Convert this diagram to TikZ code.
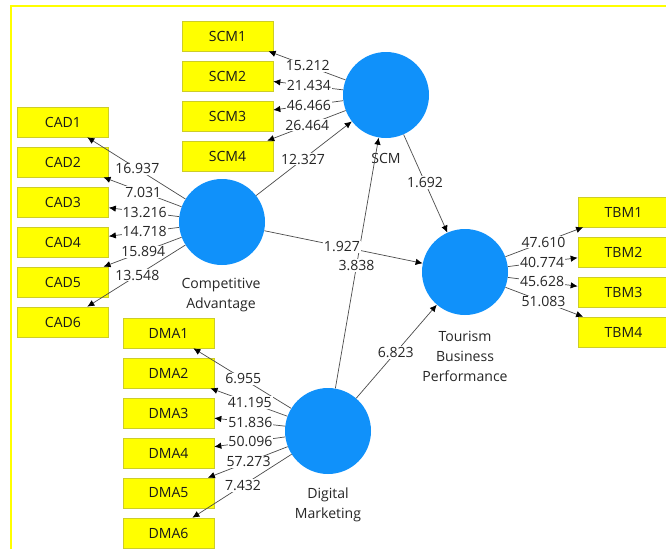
\documentclass[tikz,border=0pt]{standalone}
\usepackage{fontspec}
\setmainfont{Open Sans}
\usetikzlibrary{arrows.meta}
\definecolor{lvblue}{RGB}{16,145,250}
\definecolor{mvyellow}{RGB}{255,255,0}
\definecolor{mvedge}{RGB}{205,205,40}
\definecolor{pathgray}{RGB}{75,75,75}
\tikzset{
  latent/.style={circle,fill=lvblue,inner sep=0pt,minimum size=2.58cm},
  indicator/.style={draw=mvedge,fill=mvyellow,line width=0.5pt,minimum width=2.73cm,minimum height=0.9cm,inner sep=0pt,text=black!90},
  lvname/.style={align=center,text=black!85},
  coef/.style={fill=white,inner sep=0.8pt,pos=0.49,text=black!85},
}

\begin{document}
\begin{tikzpicture}[x=0.03cm,y=-0.03cm,font=\fontsize{12}{17}\selectfont,>={Latex[length=6pt,width=5.5pt,color=black]}]
\useasboundingbox (0,0) rectangle (666,549);
\draw [mvyellow,line width=1.7pt] (11,549) -- (11,6) -- (666,6);
% latent variables
\node [latent] (scm) at (386,95) {};
\node [latent] (ca)  at (222,222) {};
\node [latent] (dm)  at (328,431) {};
\node [latent] (tbp) at (465,272) {};
\node [lvname] (scmname) at (386,158) {SCM};
\node [lvname] (caname)  at (221,295) {Competitive\\Advantage};
\node [lvname] (dmname)  at (328,505) {Digital\\Marketing};
\node [lvname] (tbpname) at (465,356) {Tourism\\Business\\Performance};
% indicators
\node [indicator] (scm1) at (227.5,36)  {SCM1};
\node [indicator] (scm2) at (227.5,76)  {SCM2};
\node [indicator] (scm3) at (227.5,116) {SCM3};
\node [indicator] (scm4) at (227.5,156) {SCM4};
\node [indicator] (cad1) at (63,122) {CAD1};
\node [indicator] (cad2) at (63,162) {CAD2};
\node [indicator] (cad3) at (63,202) {CAD3};
\node [indicator] (cad4) at (63,242) {CAD4};
\node [indicator] (cad5) at (63,282) {CAD5};
\node [indicator] (cad6) at (63,322) {CAD6};
\node [indicator] (dma1) at (168.5,333) {DMA1};
\node [indicator] (dma2) at (168.5,373) {DMA2};
\node [indicator] (dma3) at (168.5,413) {DMA3};
\node [indicator] (dma4) at (168.5,453) {DMA4};
\node [indicator] (dma5) at (168.5,493) {DMA5};
\node [indicator] (dma6) at (168.5,533) {DMA6};
\node [indicator] (tbm1) at (623.5,212) {TBM1};
\node [indicator] (tbm2) at (623.5,252) {TBM2};
\node [indicator] (tbm3) at (623.5,292) {TBM3};
\node [indicator] (tbm4) at (623.5,332) {TBM4};
% outer loadings
\draw [pathgray,line width=0.6pt,->] (scm) to node [coef] {15.212} (scm1);
\draw [pathgray,line width=0.6pt,->] (scm) to node [coef] {21.434} (scm2);
\draw [pathgray,line width=0.6pt,->] (scm) to node [coef] {46.466} (scm3);
\draw [pathgray,line width=0.6pt,->] (scm) to node [coef] {26.464} (scm4);
\draw [pathgray,line width=0.6pt,->] (ca) to node [coef] {16.937} (cad1);
\draw [pathgray,line width=0.6pt,->] (ca) to node [coef] {7.031} (cad2);
\draw [pathgray,line width=0.6pt,->] (ca) to node [coef] {13.216} (cad3);
\draw [pathgray,line width=0.6pt,->] (ca) to node [coef] {14.718} (cad4);
\draw [pathgray,line width=0.6pt,->] (ca) to node [coef] {15.894} (cad5);
\draw [pathgray,line width=0.6pt,->] (ca) to node [coef] {13.548} (cad6);
\draw [pathgray,line width=0.6pt,->] (dm) to node [coef] {6.955} (dma1);
\draw [pathgray,line width=0.6pt,->] (dm) to node [coef] {41.195} (dma2);
\draw [pathgray,line width=0.6pt,->] (dm) to node [coef] {51.836} (dma3);
\draw [pathgray,line width=0.6pt,->] (dm) to node [coef] {50.096} (dma4);
\draw [pathgray,line width=0.6pt,->] (dm) to node [coef] {57.273} (dma5);
\draw [pathgray,line width=0.6pt,->] (dm) to node [coef] {7.432} (dma6);
\draw [pathgray,line width=0.6pt,->] (tbp) to node [coef] {47.610} (tbm1);
\draw [pathgray,line width=0.6pt,->] (tbp) to node [coef] {40.774} (tbm2);
\draw [pathgray,line width=0.6pt,->] (tbp) to node [coef] {45.628} (tbm3);
\draw [pathgray,line width=0.6pt,->] (tbp) to node [coef] {51.083} (tbm4);
% inner model
\draw [pathgray,line width=0.6pt,->] (ca) to node [coef] {12.327} (scm);
\draw [pathgray,line width=0.6pt,->] (scm) to node [coef] {1.692} (tbp);
\draw [pathgray,line width=0.6pt,->] (dm) to node [coef] {3.838} (scm);
\draw [pathgray,line width=0.6pt,->] (ca) to node [coef] {1.927} (tbp);
\draw [pathgray,line width=0.6pt,->] (dm) to node [coef] {6.823} (tbp);
\end{tikzpicture}
\end{document}
